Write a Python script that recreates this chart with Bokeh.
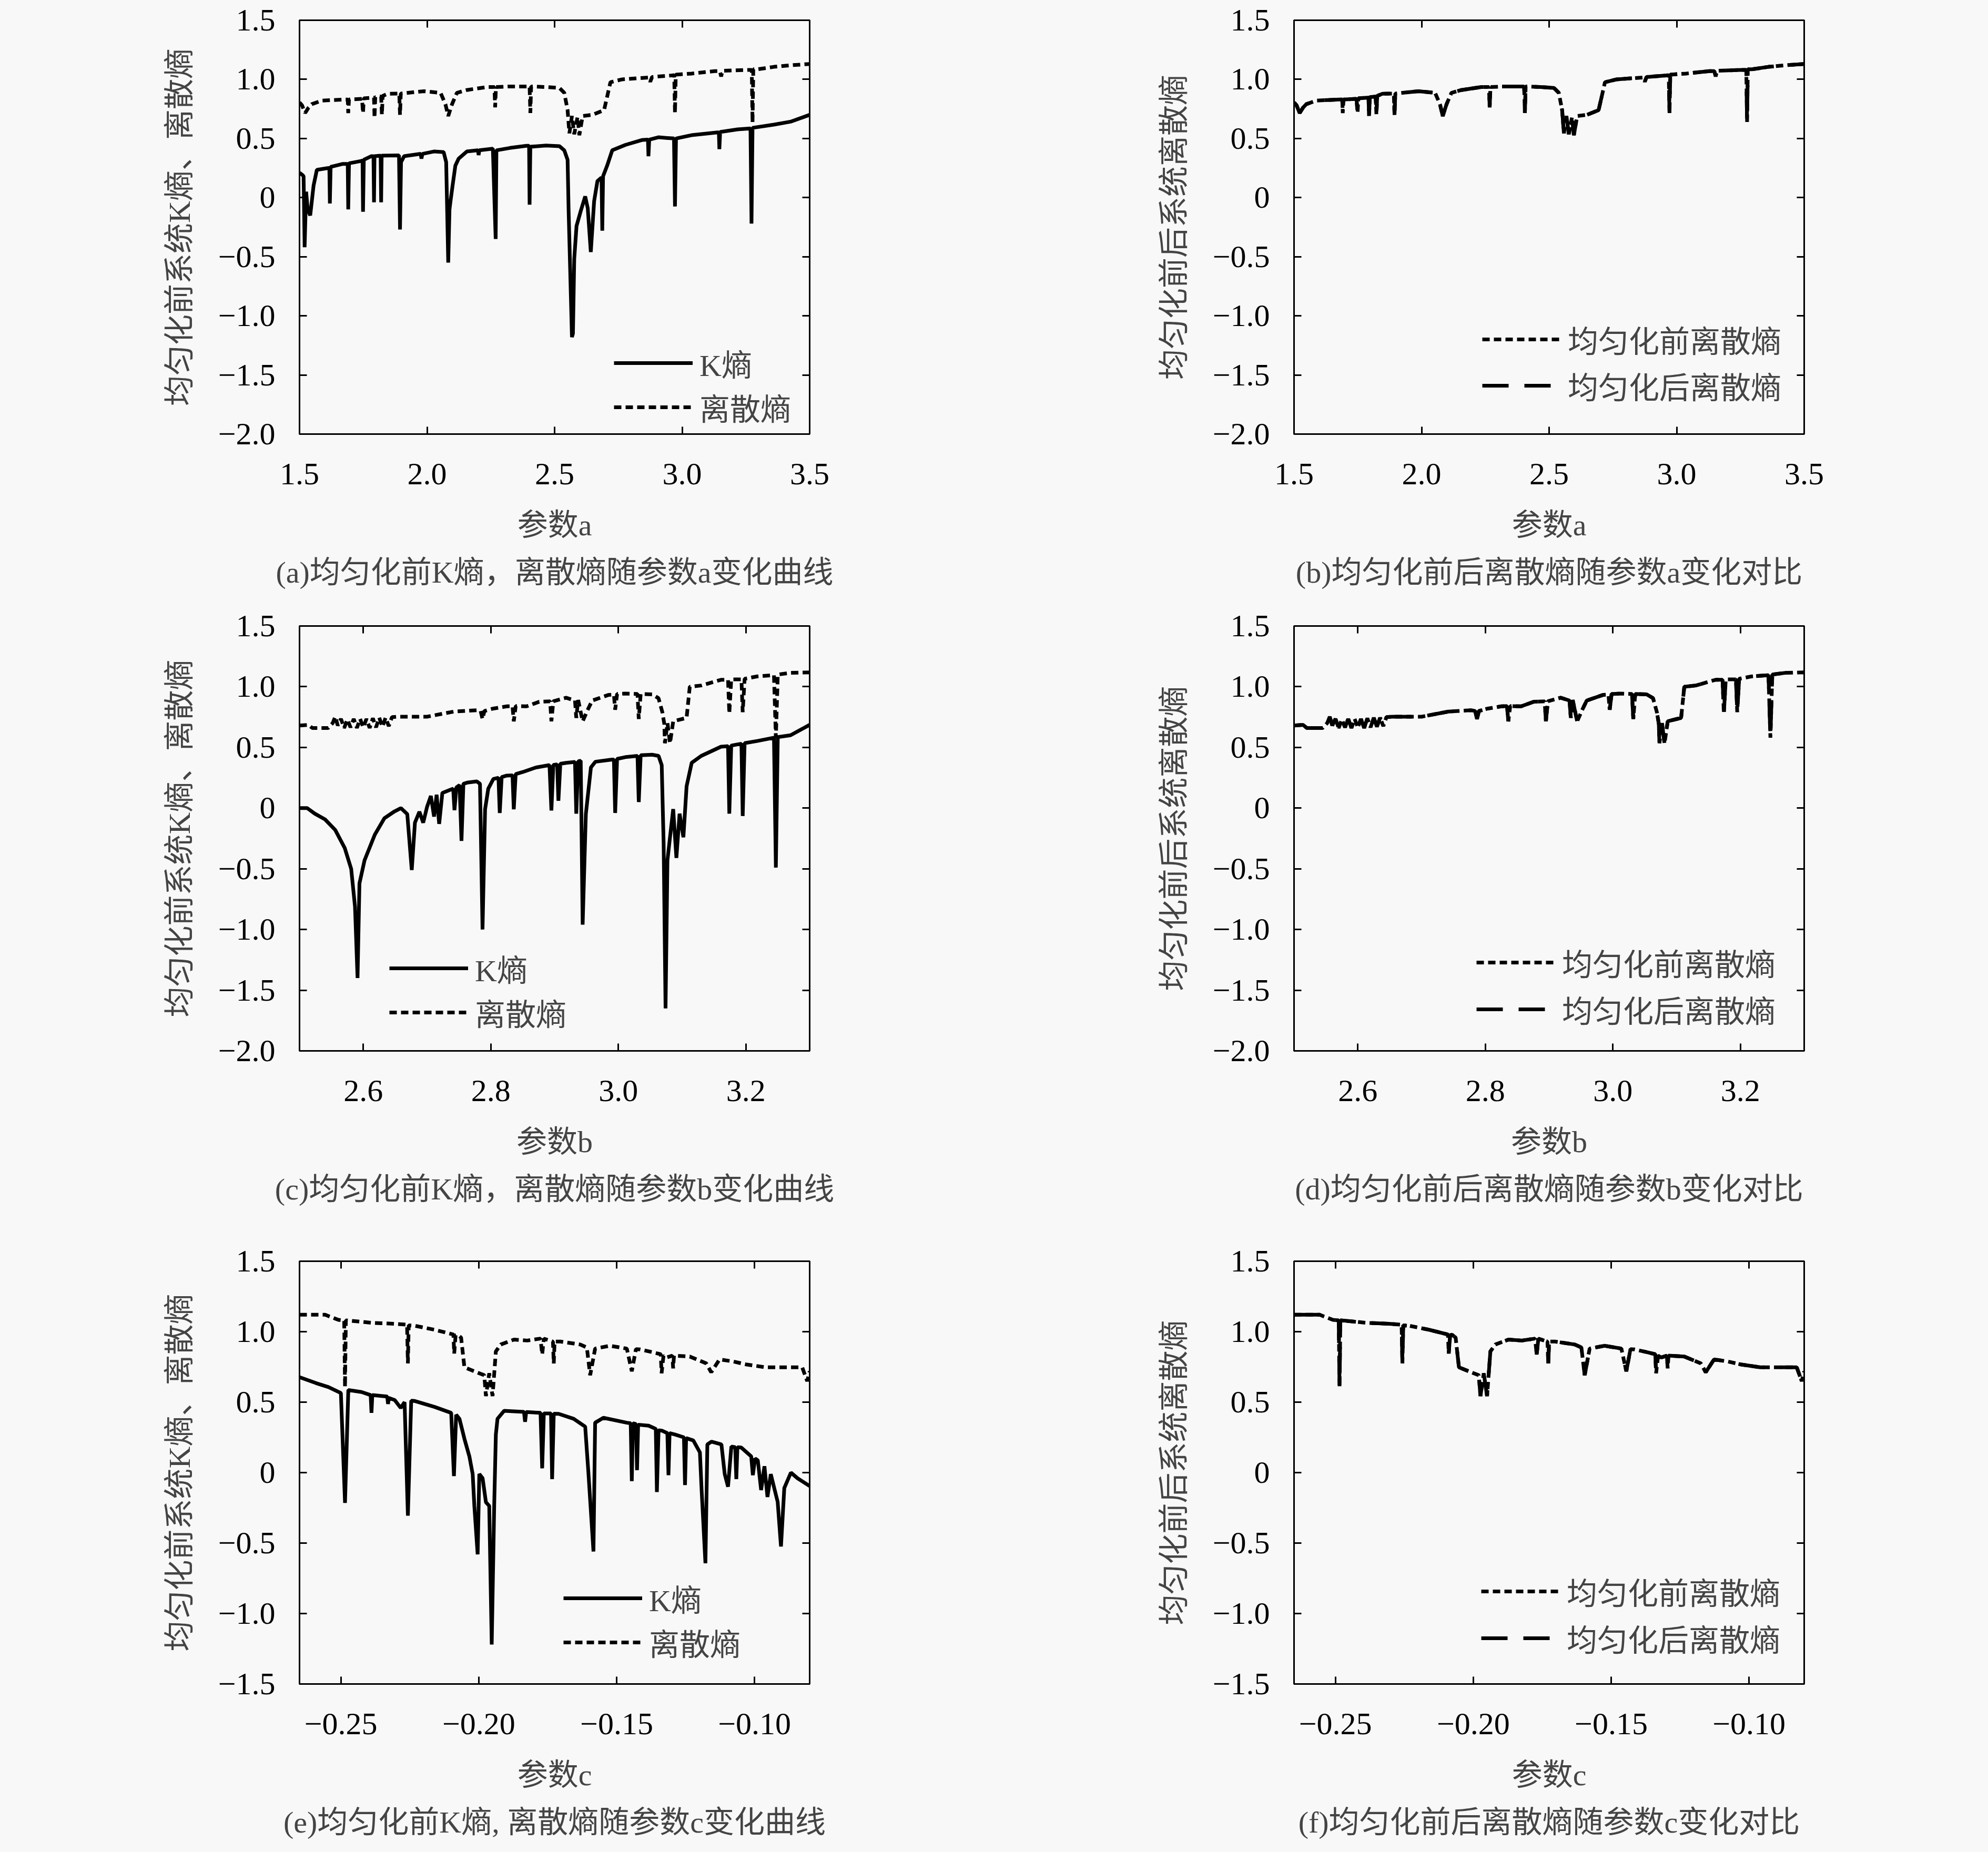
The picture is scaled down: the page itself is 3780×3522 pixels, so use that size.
from bokeh.plotting import figure
from bokeh.models import Range1d, FixedTicker, LinearAxis, Legend, LegendItem, Title
from bokeh.layouts import column, row
from bokeh.embed import file_html
from bokeh.resources import INLINE

# ---------------- data ----------------
# panel (a)/(b): parameter a
k_a = [(1.500,0.21),(1.512,0.19),(1.516,0.18),(1.520,-0.42),(1.526,0.05),(1.532,-0.10),(1.542,-0.15),
       (1.555,0.10),(1.568,0.235),(1.613,0.25),(1.617,0.25),(1.619,-0.05),(1.622,0.26),(1.670,0.285),
       (1.689,0.285),(1.691,-0.10),(1.694,0.29),(1.742,0.31),(1.747,0.315),(1.749,-0.12),(1.752,0.32),
       (1.781,0.35),(1.790,0.35),(1.792,-0.04),(1.794,0.35),(1.818,0.355),(1.820,-0.04),(1.822,0.355),
       (1.890,0.357),(1.894,-0.27),(1.898,0.30),(1.910,0.35),(1.975,0.37),(1.978,0.33),(1.982,0.37),
       (2.027,0.39),(2.065,0.385),(2.075,0.30),(2.083,-0.55),(2.088,-0.10),(2.092,-0.03),(2.100,0.10),
       (2.111,0.27),(2.124,0.33),(2.156,0.39),(2.200,0.40),(2.202,0.36),(2.205,0.40),(2.258,0.414),
       (2.269,-0.35),(2.272,0.40),(2.325,0.42),(2.390,0.438),(2.400,0.438),(2.402,-0.06),(2.405,0.43),
       (2.467,0.44),(2.519,0.435),(2.538,0.40),(2.551,0.32),(2.555,-0.11),(2.568,-1.18),(2.572,-1.15),
       (2.577,-0.52),(2.586,-0.24),(2.603,-0.11),(2.620,0.01),(2.630,-0.09),(2.642,-0.46),(2.655,-0.03),
       (2.668,0.14),(2.684,0.17),(2.687,-0.28),(2.690,0.18),(2.706,0.27),(2.726,0.40),(2.778,0.446),
       (2.842,0.487),(2.866,0.49),(2.868,0.35),(2.871,0.49),(2.907,0.51),(2.968,0.50),(2.972,-0.075),
       (2.976,0.50),(3.037,0.528),(3.140,0.552),(3.144,0.55),(3.146,0.41),(3.149,0.555),(3.218,0.577),
       (3.268,0.585),(3.272,-0.22),(3.276,0.59),(3.360,0.617),(3.425,0.642),(3.500,0.70)]
disc_a = [(1.500,0.805),(1.510,0.78),(1.522,0.715),(1.535,0.76),(1.548,0.79),(1.587,0.82),(1.678,0.83),
          (1.689,0.83),(1.691,0.715),(1.694,0.83),(1.745,0.835),(1.749,0.715),(1.752,0.84),(1.788,0.845),
          (1.792,0.845),(1.794,0.674),(1.797,0.85),(1.820,0.855),(1.823,0.70),(1.826,0.86),(1.846,0.878),
          (1.891,0.88),(1.894,0.70),(1.897,0.88),(1.988,0.90),(2.053,0.886),(2.072,0.79),(2.083,0.69),
          (2.098,0.79),(2.117,0.886),(2.156,0.91),(2.234,0.935),(2.264,0.935),(2.267,0.764),(2.270,0.935),
          (2.325,0.94),(2.402,0.94),(2.405,0.715),(2.408,0.94),(2.467,0.935),(2.519,0.927),(2.538,0.886),
          (2.551,0.74),(2.558,0.544),(2.568,0.69),(2.577,0.536),(2.590,0.682),(2.597,0.528),(2.610,0.69),
          (2.648,0.70),(2.694,0.74),(2.706,0.853),(2.719,0.976),(2.765,1.0),(2.868,1.016),(2.875,0.98),
          (2.882,1.02),(2.959,1.033),(2.969,1.035),(2.972,0.715),(2.975,1.04),(3.037,1.049),(3.128,1.07),
          (3.148,1.07),(3.153,1.024),(3.158,1.072),(3.256,1.08),(3.273,1.08),(3.276,0.634),(3.279,1.085),
          (3.295,1.085),(3.360,1.106),(3.430,1.12),(3.500,1.13)]
disc_a_after = disc_a  # the homogenized curve coincides with the original one

# panel (c)/(d): parameter b
k_b = [(2.500,0.0),(2.512,0.0),(2.524,-0.046),(2.540,-0.093),(2.556,-0.18),(2.571,-0.33),(2.581,-0.50),
       (2.587,-0.81),(2.591,-1.40),(2.594,-0.62),(2.602,-0.43),(2.618,-0.22),(2.633,-0.084),(2.649,-0.027),
       (2.659,0.0),(2.669,-0.05),(2.676,-0.51),(2.681,-0.12),(2.688,-0.03),(2.694,-0.12),(2.700,0.01),
       (2.706,0.10),(2.711,-0.07),(2.715,0.11),(2.719,-0.13),(2.724,0.125),(2.741,0.16),(2.743,-0.017),
       (2.746,0.17),(2.751,0.19),(2.754,-0.27),(2.757,0.20),(2.763,0.21),(2.778,0.22),(2.783,0.20),
       (2.787,-1.0),(2.791,-0.01),(2.796,0.16),(2.804,0.24),(2.812,0.25),(2.814,-0.04),(2.817,0.255),
       (2.825,0.268),(2.834,0.27),(2.836,-0.01),(2.839,0.28),(2.850,0.297),(2.871,0.335),(2.892,0.354),
       (2.895,-0.02),(2.898,0.355),(2.904,0.36),(2.906,0.06),(2.909,0.365),(2.918,0.373),(2.932,0.38),
       (2.934,-0.046),(2.937,0.385),(2.941,0.39),(2.944,-0.96),(2.949,-0.05),(2.957,0.335),(2.964,0.382),
       (2.990,0.40),(2.993,0.40),(2.995,-0.04),(2.998,0.405),(3.011,0.42),(3.030,0.43),(3.032,0.05),
       (3.035,0.435),(3.053,0.44),(3.063,0.43),(3.068,0.354),(3.071,-0.29),(3.074,-1.65),(3.077,-0.43),
       (3.081,-0.24),(3.086,-0.008),(3.091,-0.41),(3.096,-0.046),(3.102,-0.24),(3.107,0.18),(3.115,0.373),
       (3.130,0.43),(3.161,0.506),(3.172,0.51),(3.174,-0.046),(3.177,0.515),(3.187,0.525),(3.193,0.53),
       (3.195,-0.065),(3.198,0.535),(3.218,0.553),(3.244,0.58),(3.247,-0.49),(3.250,0.585),(3.270,0.60),
       (3.300,0.686)]
disc_b = [(2.500,0.68),(2.514,0.686),(2.520,0.66),(2.545,0.66),(2.552,0.70),(2.556,0.753),(2.560,0.68),
          (2.565,0.735),(2.570,0.66),(2.575,0.73),(2.580,0.665),(2.585,0.735),(2.590,0.66),(2.595,0.735),
          (2.600,0.665),(2.605,0.735),(2.610,0.66),(2.615,0.74),(2.620,0.665),(2.625,0.745),(2.630,0.67),
          (2.635,0.745),(2.640,0.675),(2.645,0.75),(2.654,0.753),(2.700,0.753),(2.742,0.795),(2.778,0.806),
          (2.784,0.80),(2.787,0.734),(2.790,0.80),(2.804,0.82),(2.825,0.838),(2.834,0.84),(2.836,0.715),
          (2.839,0.84),(2.856,0.838),(2.876,0.876),(2.893,0.88),(2.895,0.715),(2.898,0.88),(2.918,0.909),
          (2.932,0.886),(2.934,0.743),(2.937,0.89),(2.944,0.715),(2.952,0.81),(2.959,0.886),(2.985,0.933),
          (2.993,0.935),(2.995,0.81),(2.998,0.94),(3.011,0.943),(3.030,0.94),(3.032,0.734),(3.035,0.94),
          (3.053,0.937),(3.063,0.905),(3.069,0.79),(3.072,0.696),(3.073,0.534),(3.077,0.70),(3.081,0.534),
          (3.086,0.715),(3.107,0.743),(3.112,1.0),(3.130,1.01),(3.161,1.057),(3.172,1.057),(3.174,0.78),
          (3.177,1.06),(3.193,1.06),(3.195,0.79),(3.198,1.065),(3.218,1.085),(3.244,1.095),(3.247,0.58),
          (3.250,1.10),(3.270,1.114),(3.300,1.118)]
disc_b_after = disc_b

# panel (e)/(f): parameter c
k_c = [(-0.2650,0.677),(-0.2590,0.635),(-0.2545,0.607),(-0.2500,0.565),(-0.2485,-0.215),(-0.2473,0.586),
       (-0.2425,0.572),(-0.2392,0.55),(-0.2389,0.424),(-0.2386,0.55),(-0.2353,0.544),(-0.2332,0.54),
       (-0.2329,0.487),(-0.2326,0.53),(-0.2305,0.515),(-0.2283,0.459),(-0.2269,0.50),(-0.2257,-0.306),
       (-0.2245,0.51),(-0.2232,0.508),(-0.2160,0.466),(-0.2100,0.424),(-0.2090,-0.025),(-0.2082,0.41),
       (-0.2070,0.382),(-0.2052,0.24),(-0.2034,0.115),(-0.2022,-0.011),(-0.2016,-0.236),(-0.2004,-0.58),
       (-0.1998,-0.01),(-0.1986,-0.04),(-0.1974,-0.21),(-0.1962,-0.236),(-0.1953,-1.22),(-0.1944,-0.236),
       (-0.1938,0.27),(-0.1932,0.382),(-0.1908,0.438),(-0.1836,0.431),(-0.1832,0.361),(-0.1828,0.43),
       (-0.1776,0.424),(-0.1770,0.03),(-0.1764,0.42),(-0.1738,0.42),(-0.1734,-0.046),(-0.1728,0.418),
       (-0.1710,0.417),(-0.1656,0.382),(-0.1614,0.326),(-0.1602,-0.011),(-0.1584,-0.56),(-0.1578,0.354),
       (-0.1548,0.389),(-0.1463,0.354),(-0.1449,0.35),(-0.1445,-0.06),(-0.1441,0.35),(-0.1430,0.345),
       (-0.1426,0.017),(-0.1422,0.34),(-0.1384,0.333),(-0.1358,0.31),(-0.1354,-0.138),(-0.1348,0.30),
       (-0.1336,0.298),(-0.1316,0.28),(-0.1312,-0.018),(-0.1308,0.28),(-0.1288,0.27),(-0.1256,0.25),
       (-0.1252,-0.088),(-0.1248,0.245),(-0.1222,0.228),(-0.1198,0.143),(-0.1192,-0.117),(-0.1178,-0.643),
       (-0.1171,0.20),(-0.1156,0.22),(-0.1120,0.20),(-0.1108,-0.011),(-0.1096,-0.10),(-0.1084,0.185),
       (-0.1070,0.18),(-0.1066,-0.046),(-0.1062,0.18),(-0.1048,0.178),(-0.1012,0.115),(-0.1006,-0.018),
       (-0.0998,0.10),(-0.0988,0.087),(-0.0976,-0.124),(-0.0964,0.045),(-0.0953,-0.173),(-0.0941,-0.011),
       (-0.0916,-0.208),(-0.0904,-0.524),(-0.0892,-0.11),(-0.0868,0.0),(-0.0844,-0.04),(-0.0800,-0.095)]
disc_c = [(-0.2650,1.12),(-0.2557,1.12),(-0.2509,1.084),(-0.2488,1.08),(-0.2485,0.607),(-0.2482,1.08),
          (-0.2461,1.077),(-0.2389,1.063),(-0.2305,1.056),(-0.2260,1.05),(-0.2257,0.775),(-0.2254,1.045),
          (-0.2232,1.042),(-0.2161,1.014),(-0.2092,0.98),(-0.2089,0.845),(-0.2084,0.975),(-0.2077,0.979),
          (-0.2064,0.958),(-0.2052,0.747),(-0.2016,0.719),(-0.1980,0.691),(-0.1974,0.543),(-0.1962,0.705),
          (-0.1950,0.543),(-0.1938,0.86),(-0.1920,0.909),(-0.1872,0.944),(-0.1824,0.937),(-0.1776,0.951),
          (-0.1770,0.838),(-0.1764,0.95),(-0.1731,0.93),(-0.1728,0.775),(-0.1725,0.93),(-0.1704,0.93),
          (-0.1632,0.909),(-0.1608,0.888),(-0.1596,0.691),(-0.1578,0.88),(-0.1524,0.90),(-0.1463,0.88),
          (-0.1445,0.719),(-0.1430,0.876),(-0.1415,0.874),(-0.1367,0.853),(-0.1340,0.84),(-0.1337,0.705),
          (-0.1330,0.83),(-0.1319,0.817),(-0.1298,0.83),(-0.1295,0.74),(-0.1292,0.83),(-0.1235,0.824),
          (-0.1175,0.775),(-0.1157,0.712),(-0.1127,0.803),(-0.1079,0.789),(-0.1031,0.768),(-0.0959,0.747),
          (-0.0827,0.747),(-0.0809,0.649),(-0.0800,0.719)]
disc_c_after = disc_c

# ticks and tick labels
y_ticks_ab = [-2.0, -1.5, -1.0, -0.5, 0.0, 0.5, 1.0, 1.5]
y_labels_ab = ["\u22122.0", "\u22121.5", "\u22121.0", "\u22120.5", "0", "0.5", "1.0", "1.5"]
y_ticks_c = [-1.5, -1.0, -0.5, 0.0, 0.5, 1.0, 1.5]
y_labels_c = ["\u22121.5", "\u22121.0", "\u22120.5", "0", "0.5", "1.0", "1.5"]
x_ticks_a = [1.5, 2.0, 2.5, 3.0, 3.5]
x_labels_a = ["1.5", "2.0", "2.5", "3.0", "3.5"]
x_ticks_b = [2.6, 2.8, 3.0, 3.2]
x_labels_b = ["2.6", "2.8", "3.0", "3.2"]
x_ticks_c = [-0.25, -0.20, -0.15, -0.10]
x_labels_c = ["\u22120.25", "\u22120.20", "\u22120.15", "\u22120.10"]

# texts
ylab_left = "均匀化前系统K熵、离散熵"
ylab_right = "均匀化前后系统离散熵"
leg_left = ["K熵", "离散熵"]
leg_right = ["均匀化前离散熵", "均匀化后离散熵"]
captions = ["(a)均匀化前K熵，离散熵随参数a变化曲线", "(b)均匀化前后离散熵随参数a变化对比",
            "(c)均匀化前K熵，离散熵随参数b变化曲线", "(d)均匀化前后离散熵随参数b变化对比",
            "(e)均匀化前K熵, 离散熵随参数c变化曲线", "(f)均匀化前后离散熵随参数c变化对比"]

# ---------------- styling ----------------
BG = "#f8f8f8"
FONT = "'Liberation Serif', 'Noto Sans CJK SC', serif"
TXT = "58px"
TICK = "60px"


def style_axis(ax, ticks, labels, show):
    ax.ticker = FixedTicker(ticks=ticks)
    ax.major_label_overrides = {t: l for t, l in zip(ticks, labels)}
    ax.axis_line_color = "black"
    ax.axis_line_width = 3
    ax.major_tick_line_width = 3
    ax.major_tick_in = 14
    ax.major_tick_out = 0
    ax.minor_tick_line_color = None
    ax.major_label_text_font = FONT
    if show:
        ax.major_label_text_font_size = TICK
        ax.major_label_text_color = "black"
    else:
        ax.major_label_text_font_size = "8px"
        ax.major_label_text_color = None


def panel(W, H, bl, br, bt, bb, xr, yr, xt, xl, yt, yl, xlabel, ylabel, caption,
          series, legend_xy, legend_spacing, cap_standoff=41):
    p = figure(width=W, height=H, x_range=Range1d(*xr), y_range=Range1d(*yr),
               output_backend="svg", toolbar_location=None,
               min_border_left=bl, min_border_right=br, min_border_top=bt, min_border_bottom=bb,
               background_fill_color=BG, border_fill_color=BG)
    p.grid.visible = False
    p.outline_line_color = "black"
    p.outline_line_width = 3
    style_axis(p.xaxis[0], xt, xl, True)
    style_axis(p.yaxis[0], yt, yl, True)
    p.xaxis[0].major_label_standoff = 56
    p.yaxis[0].major_label_standoff = 46
    for ax, txt, so in ((p.xaxis[0], xlabel, 42), (p.yaxis[0], ylabel, 38)):
        ax.axis_label = txt
        ax.axis_label_text_font = FONT
        ax.axis_label_text_font_size = TXT
        ax.axis_label_text_font_style = "normal"
        ax.axis_label_standoff = so
    top = LinearAxis()
    style_axis(top, xt, ["" for _ in xt], False)
    p.add_layout(top, "above")
    right = LinearAxis()
    style_axis(right, yt, ["" for _ in yt], False)
    p.add_layout(right, "right")

    items = []
    for (pts, dash, width, label) in series:
        xs = [a for a, b in pts]
        ys = [b for a, b in pts]
        r = p.line(xs, ys, line_color="black", line_width=width, line_dash=dash)
        items.append(LegendItem(label=label, renderers=[r]))
    leg = Legend(items=items, location=legend_xy, border_line_color=None,
                 background_fill_alpha=0, label_text_font=FONT, label_text_font_size=TXT,
                 glyph_width=150, glyph_height=60, label_height=60, label_standoff=13,
                 spacing=legend_spacing, padding=0, margin=0)
    p.add_layout(leg, "center")

    cap = Title(text=caption, align="center", text_font=FONT, text_font_size=TXT,
                text_font_style="normal", standoff=cap_standoff)
    p.add_layout(cap, "below")
    return p


SOLID, DOT, DASH = "solid", "14 8", "50 30"
LW, RW = 1898, 1870
KW, DW = 7, 7
BT = 38  # room above each frame for the top tick label

pa = panel(LW, 1152, 569, 359, BT, 327, (1.5, 3.5), (-2.0, 1.5), x_ticks_a, x_labels_a,
           y_ticks_ab, y_labels_ab, "参数a", ylab_left, captions[0],
           [(k_a, SOLID, KW, leg_left[0]), (disc_a, DOT, DW, leg_left[1])], (598, 9), -8)
pb = panel(RW, 1152, 562, 338, BT, 327, (1.5, 3.5), (-2.0, 1.5), x_ticks_a, x_labels_a,
           y_ticks_ab, y_labels_ab, "参数a", ylab_right, captions[1],
           [(disc_a, DOT, DW, leg_right[0]), (disc_a_after, DASH, DW, leg_right[1])], (358, 50), 4)
pc = panel(LW, 1208, 569, 359, BT, 362, (2.5, 3.3), (-2.0, 1.5), x_ticks_b, x_labels_b,
           y_ticks_ab, y_labels_ab, "参数b", ylab_left, captions[2],
           [(k_b, SOLID, KW, leg_left[0]), (disc_b, DOT, DW, leg_left[1])], (171, 31), -9)
pd = panel(RW, 1208, 562, 338, BT, 362, (2.5, 3.3), (-2.0, 1.5), x_ticks_b, x_labels_b,
           y_ticks_ab, y_labels_ab, "参数b", ylab_right, captions[3],
           [(disc_b, DOT, DW, leg_right[0]), (disc_b_after, DASH, DW, leg_right[1])], (347, 37), 5)
pe = panel(LW, 1158, 569, 359, BT, 314, (-0.265, -0.080), (-1.5, 1.5), x_ticks_c, x_labels_c,
           y_ticks_c, y_labels_c, "参数c", ylab_left, captions[4],
           [(k_c, SOLID, KW, leg_left[0]), (disc_c, DOT, DW, leg_left[1])], (502, 37), -10)
pf = panel(RW, 1158, 562, 338, BT, 307, (-0.265, -0.080), (-1.5, 1.5), x_ticks_c, x_labels_c,
           y_ticks_c, y_labels_c, "参数c", ylab_right, captions[5],
           [(disc_c, DOT, DW, leg_right[0]), (disc_c_after, DASH, DW, leg_right[1])], (356, 45), 5)

layout = column(row(pa, pb), row(pc, pd), row(pe, pf))
html = file_html(layout, INLINE)
html = html.replace("</head>", "<style>html, body { background-color: #f8f8f8; }</style></head>", 1)
open("out.html", "w").write(html)
